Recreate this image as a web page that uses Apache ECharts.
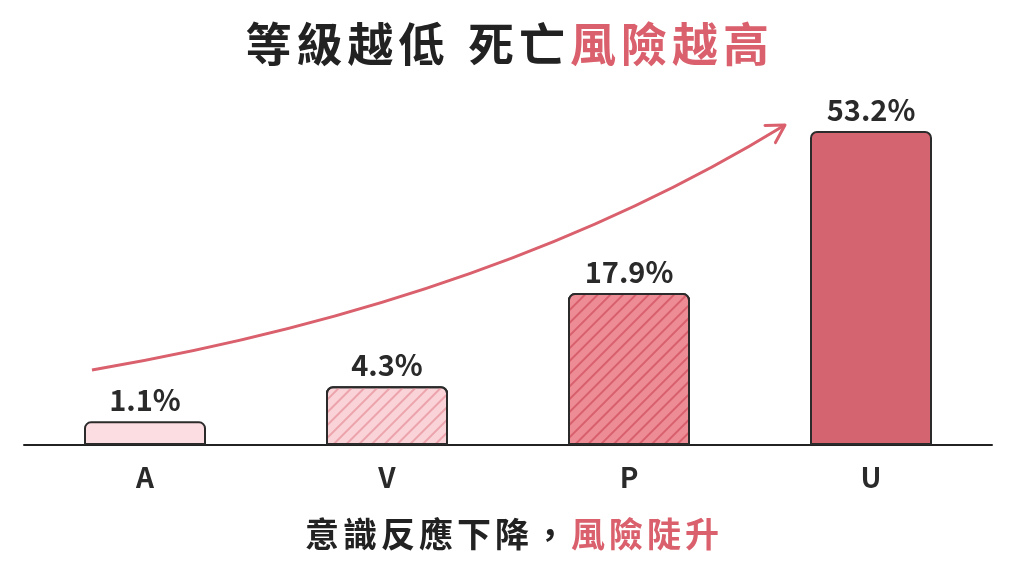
<!DOCTYPE html>
<html>
<head>
<meta charset="utf-8">
<script src="https://cdn.jsdelivr.net/npm/echarts@6/dist/echarts.min.js"></script>
<style>html,body{margin:0;padding:0;background:#fff}#c{width:1024px;height:576px}</style>
</head>
<body>
<div id="c"></div>
<script>
const categories = ['A', 'V', 'P', 'U'];
const values = [1.1, 4.3, 17.9, 53.2];
const titleDark = '等級越低 死亡';
const titleRed = '風險越高';
const subDark = '意識反應下降，';
const subRed = '風險陡升';

const RED = '#d9606c';
const DARK = '#2a2a2a';
const FONT = '"Noto Sans CJK TC", "Noto Sans", sans-serif';

// power (2/3) scale, like a d3 scalePow, so small values remain visible
const scaled = values.map(v => Math.pow(v, 2 / 3));

const hatch = c => ({ symbol: 'rect', symbolSize: 1, dashArrayX: [1, 0], dashArrayY: [1.2, 6.5], rotation: -Math.PI / 4, color: c });
const styles = [
  { color: '#fcdde1' },
  { color: '#f9d3d8', decal: hatch('#eca3ab') },
  { color: '#ee8c96', decal: hatch('#d8606d') },
  { color: '#d56471' }
];

const data = scaled.map((s, i) => ({
  value: s,
  itemStyle: Object.assign({ borderColor: '#2b2b2b', borderWidth: 2, borderRadius: [6, 6, 0, 0] }, styles[i])
}));

// spaced rich text helper
function spaced(str, key) {
  return str.split('').map(ch => ch === ' ' ? '{' + key + 's| }' : '{' + key + '|' + ch + '}').join('');
}

// decorative arrow (quadratic curve)
const p0 = [92, 370], cp = [500, 300], p1 = [785, 125];
const ang = Math.atan2(p1[1] - cp[1], p1[0] - cp[0]);
const hl = 20, ha = Math.PI / 6;
const h1 = [p1[0] - hl * Math.cos(ang - ha), p1[1] - hl * Math.sin(ang - ha)];
const h2 = [p1[0] - hl * Math.cos(ang + ha), p1[1] - hl * Math.sin(ang + ha)];

const chart = echarts.init(document.getElementById('c'));
chart.setOption({
  backgroundColor: '#ffffff',
  animation: false,
  title: [{
    text: spaced(titleDark, 'd') + spaced(titleRed, 'r'),
    left: 238, top: 16,
    textStyle: {
      rich: {
        d: { fontSize: 46, fontWeight: 'bold', color: '#222', fontFamily: FONT, padding: [0, 2.5] },
        ds: { fontSize: 46, fontWeight: 'bold', color: '#222', fontFamily: FONT, padding: [0, 4] },
        r: { fontSize: 46, fontWeight: 'bold', color: RED, fontFamily: FONT, padding: [0, 2.5] }
      }
    }
  }, {
    text: spaced(subDark, 'd') + spaced(subRed, 'r'),
    left: 'center', top: 512,
    textStyle: {
      rich: {
        d: { fontSize: 34, fontWeight: 'bold', color: '#222', fontFamily: FONT, padding: [0, 2] },
        r: { fontSize: 34, fontWeight: 'bold', color: RED, fontFamily: FONT, padding: [0, 2] }
      }
    }
  }],
  grid: { left: 24, right: 32, top: 131, bottom: 131, containLabel: false },
  xAxis: {
    type: 'category',
    data: categories,
    axisLine: { lineStyle: { color: '#222', width: 2 } },
    axisTick: { show: false },
    axisLabel: { margin: 18, fontSize: 28, fontWeight: 'bold', color: DARK, fontFamily: FONT }
  },
  yAxis: {
    type: 'value', min: 0, max: 'dataMax', show: false, splitLine: { show: false }
  },
  series: [{
    type: 'bar',
    data: data,
    barWidth: 122,
    label: {
      show: true, position: 'top', distance: 7,
      formatter: p => values[p.dataIndex].toFixed(1) + '%',
      fontSize: 29, fontWeight: 'bold', color: DARK, fontFamily: FONT
    }
  }],
  graphic: [{
    type: 'bezierCurve',
    shape: { x1: p0[0], y1: p0[1], cpx1: cp[0], cpy1: cp[1], x2: p1[0], y2: p1[1] },
    style: { stroke: RED, lineWidth: 3, fill: null }
  }, {
    type: 'polyline',
    shape: { points: [h1, p1, h2] },
    style: { stroke: RED, lineWidth: 3, fill: null, lineCap: 'round', lineJoin: 'round' }
  }]
});
</script>
</body>
</html>
